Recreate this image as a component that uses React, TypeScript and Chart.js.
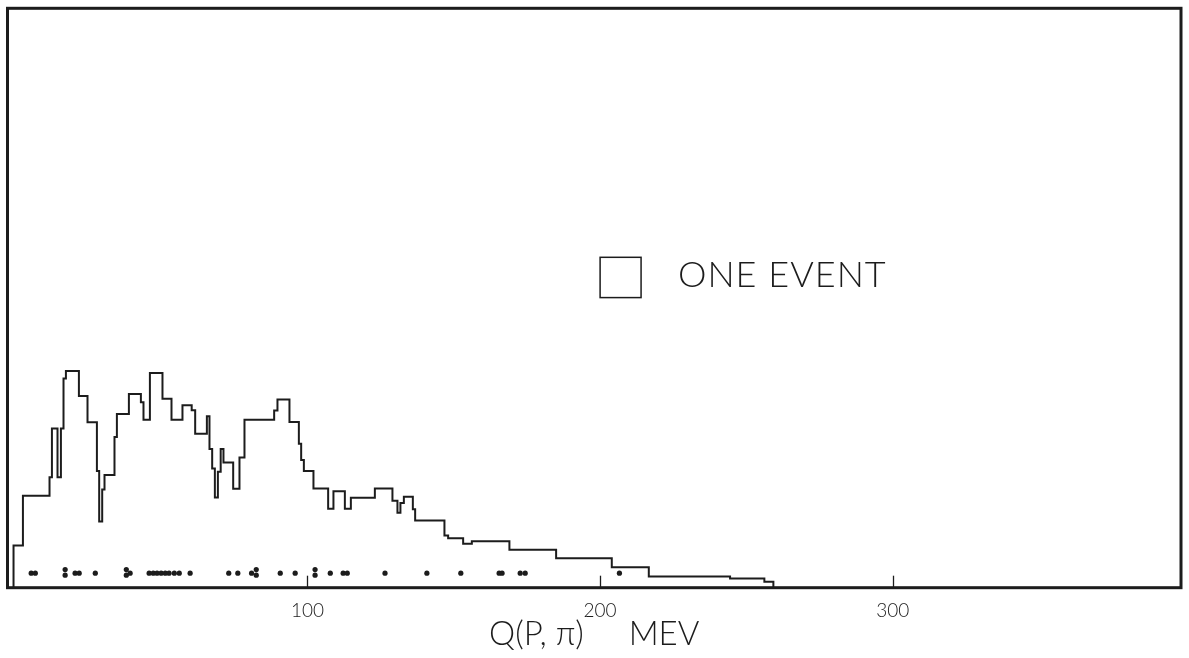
import { useEffect, useRef } from "react";
import { Chart, registerables } from "chart.js";

Chart.register(...registerables);

// Bin edges of the Q(p, pi) ideogram, in MeV
const binEdges = [
  -0.44, 2.77, 11.86, 12.68, 14.59, 15.75, 16.64, 17.46, 21.9, 24.84, 28.05,
  28.83, 29.86, 30.65, 34.06, 34.88, 38.98, 43.08, 43.97, 46.16, 50.46, 53.54,
  57.29, 60.44, 61.63, 65.63, 66.52, 67.44, 68.36, 69.39, 70.35, 71.3, 74.62,
  76.77, 78.48, 88.62, 89.75, 93.85, 97.06, 97.85, 98.77, 102.05, 107.07,
  108.88, 112.78, 114.83, 123.03, 129.04, 130.75, 131.77, 132.94, 136.01,
  136.8, 146.81, 148.07, 153.2, 156.17, 169.01, 184.97, 203.99, 216.64,
  244.41, 256.13, 259.21,
];

// Level of each bin, in units of one event box
const binHeights = [
  1.045, 2.28, 2.74, 3.95, 2.74, 3.95, 5.19, 5.38, 4.755, 4.105, 2.895, 1.645,
  2.44, 2.795, 3.74, 4.31, 4.81, 4.605, 4.17, 5.33, 4.69, 4.17, 4.53, 4.405,
  3.82, 4.255, 3.445, 2.96, 2.24, 2.88, 3.445, 3.11, 2.455, 3.23, 4.17, 4.395,
  4.67, 4.11, 3.57, 3.17, 2.895, 2.46, 1.96, 2.395, 1.96, 2.23, 2.46, 2.155,
  1.86, 2.105, 2.255, 1.945, 1.67, 1.295, 1.23, 1.09, 1.155, 0.94, 0.73, 0.51,
  0.28, 0.23, 0.145,
];

// Q value of each individual event, in MeV
const eventQ = [
  5.6, 7.0, 17.2, 17.2, 20.6, 22.0, 27.5, 38.1, 38.1, 39.4, 45.9, 47.3, 48.6,
  50.0, 51.4, 52.7, 54.5, 56.2, 59.9, 73.1, 76.2, 80.9, 82.5, 82.5, 90.7, 95.8,
  102.6, 102.6, 107.8, 112.2, 113.6, 126.5, 140.8, 152.4, 165.5, 166.5, 172.7,
  174.4, 206.6,
];

const xTicks = [100, 200, 300];
const xTitle = "Q(P, \u03c0)     MEV";
const keyLabel = "ONE EVENT";

const INK = "#1c1c1c";
const FONT = "Lato";

// event row: single events sit on one line, coincident pairs are stacked
const DOT_ROW = 0.36;
const DOT_LOW = 0.31;
const DOT_HIGH = 0.45;

function eventPoints() {
  const seen = new Map<number, number>();
  for (const q of eventQ) seen.set(q, (seen.get(q) || 0) + 1);
  const used = new Map<number, number>();
  return eventQ.map((q) => {
    const n = seen.get(q) || 1;
    const k = used.get(q) || 0;
    used.set(q, k + 1);
    if (n === 1) return { x: q, y: DOT_ROW };
    return { x: q, y: k === 0 ? DOT_LOW : DOT_HIGH };
  });
}

function histogramPoints() {
  const pts = [{ x: binEdges[0], y: 0 }];
  binHeights.forEach((h, i) => pts.push({ x: binEdges[i], y: h }));
  pts.push({ x: binEdges[binEdges.length - 1], y: 0 });
  return pts;
}

// frame, inward tick marks and the one-event key
const framePlugin = {
  id: "frameAndKey",
  afterDatasetsDraw(chart: any) {
    const { ctx, chartArea: a, scales } = chart;
    const x = scales.x;
    const y = scales.y;
    ctx.save();
    ctx.strokeStyle = INK;
    ctx.lineWidth = 3;
    ctx.strokeRect(a.left, a.top, a.right - a.left, a.bottom - a.top);

    ctx.lineWidth = 1.3;
    for (const v of xTicks) {
      const px = Math.round(x.getPixelForValue(v)) + 0.5;
      ctx.beginPath();
      ctx.moveTo(px, a.bottom);
      ctx.lineTo(px, a.bottom - 12);
      ctx.stroke();
    }

    const bx0 = x.getPixelForValue(200);
    const bx1 = x.getPixelForValue(214);
    const by0 = y.getPixelForValue(8.2);
    const by1 = y.getPixelForValue(7.2);
    ctx.lineWidth = 1.5;
    ctx.strokeRect(bx0, by0, bx1 - bx0, by1 - by0);

    ctx.fillStyle = INK;
    ctx.font = `300 36px ${FONT}`;
    ctx.textBaseline = "middle";
    ctx.textAlign = "left";
    (ctx as any).letterSpacing = "1px";
    ctx.fillText(keyLabel, x.getPixelForValue(226.6), y.getPixelForValue(7.75));
    ctx.restore();
  },
};

export default function App() {
  const canvasRef = useRef<HTMLCanvasElement | null>(null);

  useEffect(() => {
    const canvas = canvasRef.current;
    if (!canvas) return;
    const chart = new Chart(canvas, {
      type: "line",
      data: {
        datasets: [
          {
            type: "line",
            data: histogramPoints(),
            stepped: "before",
            borderColor: INK,
            borderWidth: 2,
            pointRadius: 0,
            fill: false,
          } as any,
          {
            type: "scatter",
            data: eventPoints(),
            pointRadius: 2.6,
            pointBackgroundColor: INK,
            pointBorderWidth: 0,
            showLine: false,
          } as any,
        ],
      },
      options: {
        animation: false,
        responsive: false,
        devicePixelRatio: 1,
        layout: { padding: { left: 7.5, right: 8, top: 8.3, bottom: 7.5 } },
        plugins: {
          legend: { display: false },
          tooltip: { enabled: false },
        },
        scales: {
          x: {
            type: "linear",
            min: -2.5,
            max: 398.5,
            grid: { display: false, drawTicks: false },
            border: { display: false },
            afterBuildTicks: (scale: any) => {
              scale.ticks = xTicks.map((v) => ({ value: v }));
            },
            ticks: {
              padding: 11.5,
              color: INK,
              font: { family: FONT, size: 19, weight: "300" },
              maxRotation: 0,
              autoSkip: false,
            },
            title: {
              display: true,
              text: xTitle,
              color: INK,
              font: { family: FONT, size: 33, weight: "300", lineHeight: 1 },
              padding: { top: -16, bottom: 0 },
            },
          },
          y: {
            type: "linear",
            display: false,
            min: 0,
            max: 14.38,
          },
        },
      },
      plugins: [framePlugin],
    });
    return () => chart.destroy();
  }, []);

  return (
    <div style={{ position: "fixed", left: 0, top: 0, width: 1189, height: 658, background: "#fff" }}>
      <canvas ref={canvasRef} width={1189} height={658} style={{ display: "block" }} />
    </div>
  );
}
